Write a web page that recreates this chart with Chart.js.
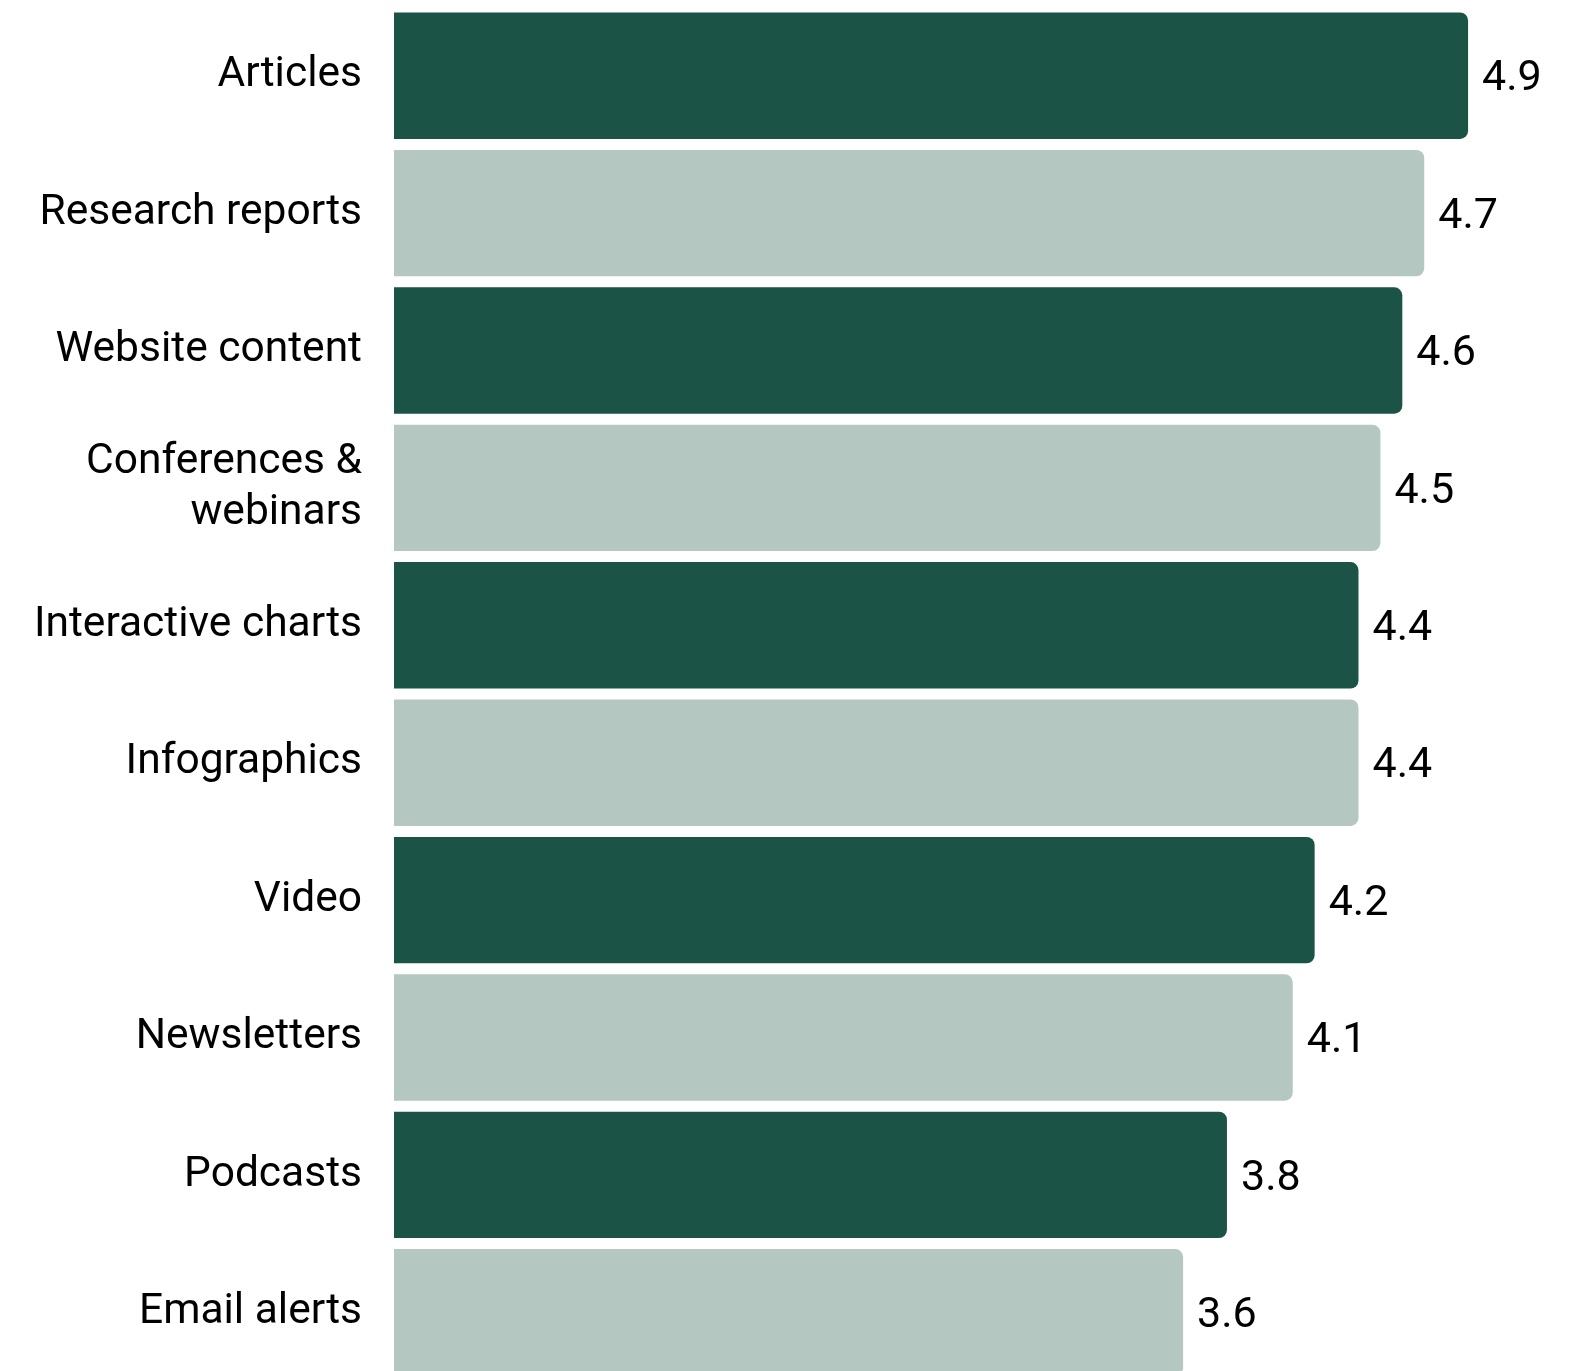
<!DOCTYPE html>
<html>
<head>
<meta charset="utf-8">
<script src="https://cdn.jsdelivr.net/npm/chart.js@4"></script>
<style>
  html, body { margin: 0; padding: 0; background: #fff; }
  canvas { display: block; }
</style>
</head>
<body>
<canvas id="formatChart" width="1584" height="1371"></canvas>
<script>
const categories = [
    'Articles',
    'Research reports',
    'Website content',
    ['Conferences &', 'webinars'],
    'Interactive charts',
    'Infographics',
    'Video',
    'Newsletters',
    'Podcasts',
    'Email alerts'
];
const scores = [4.9, 4.7, 4.6, 4.5, 4.4, 4.4, 4.2, 4.1, 3.8, 3.6];

const DARK = '#1b5346';
const LIGHT = '#b4c7c0';

// write the score just past the end of each bar
const valueLabels = {
    id: 'valueLabels',
    afterDatasetsDraw(chart) {
        const ctx = chart.ctx;
        const meta = chart.getDatasetMeta(0);
        ctx.save();
        ctx.font = '43px Roboto';
        ctx.fillStyle = '#000';
        ctx.textAlign = 'left';
        ctx.textBaseline = 'middle';
        meta.data.forEach((bar, i) => {
            ctx.fillText(scores[i].toFixed(1), bar.x + 14, bar.y + 4);
        });
        ctx.restore();
    }
};

// let the category axis run a little past the bottom edge so the
// last bar sits flush with it
const bleedBottom = {
    id: 'bleedBottom',
    afterLayout(chart) {
        const y = chart.scales.y;
        y.bottom += 10;
        y.height += 10;
        y.configure();
        chart.chartArea.bottom += 10;
        chart.chartArea.height += 10;
    }
};

new Chart(document.getElementById('formatChart'), {
    type: 'bar',
    data: {
        labels: categories,
        datasets: [{
            data: scores,
            backgroundColor: scores.map((_, i) => i % 2 === 0 ? DARK : LIGHT),
            borderRadius: 8,
            categoryPercentage: 1,
            barPercentage: 0.92
        }]
    },
    options: {
        indexAxis: 'y',
        responsive: false,
        animation: false,
        layout: { padding: { top: 7, right: 94, bottom: 0, left: 0 } },
        plugins: {
            legend: { display: false },
            tooltip: { enabled: false }
        },
        scales: {
            x: {
                display: false,
                min: 0,
                max: 5
            },
            y: {
                grid: { display: false, drawTicks: false },
                border: { display: false },
                afterFit(scale) {
                    scale.width = 394;
                    scale.paddingTop = 0;
                    scale.paddingBottom = 0;
                },
                ticks: {
                    padding: 32,
                    color: '#000',
                    font: { family: 'Roboto', size: 42.5, lineHeight: 1.2 }
                }
            }
        }
    },
    plugins: [valueLabels, bleedBottom]
});
</script>
</body>
</html>
